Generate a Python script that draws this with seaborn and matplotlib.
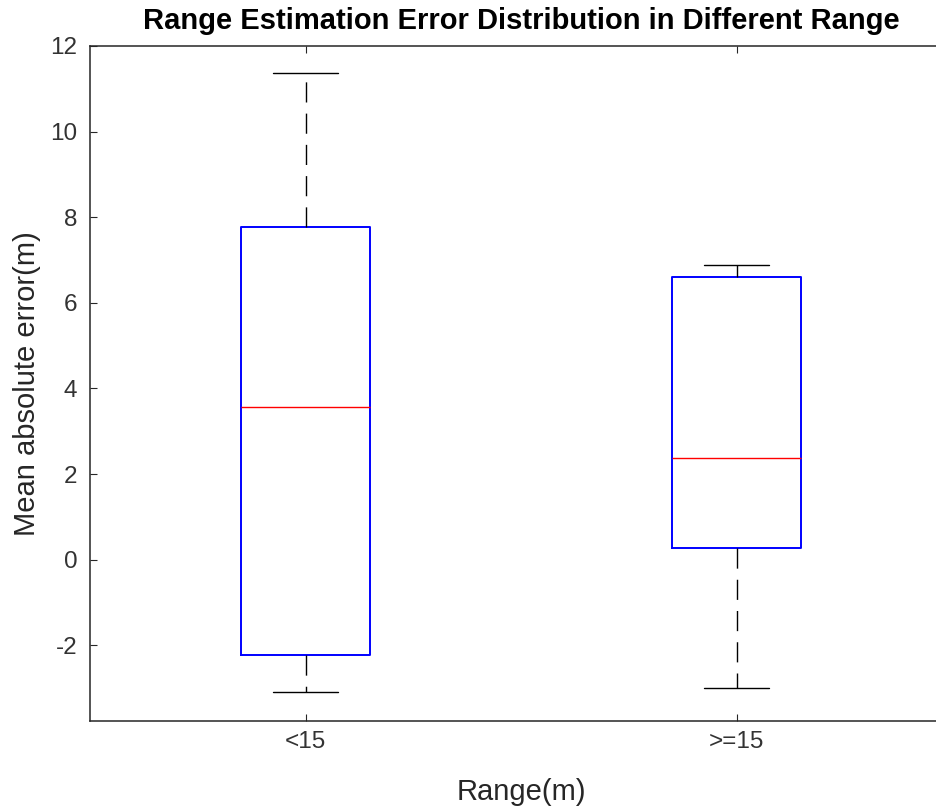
import numpy as np
import pandas as pd
import matplotlib
matplotlib.use("Agg")
import matplotlib.pyplot as plt
import seaborn as sns

# Five-number summaries: [min, Q1, median, Q3, max]
categories = ["<15", ">=15"]
group_lt15 = [-3.09, -2.22, 3.56, 7.76, 11.37]
group_ge15 = [-3.00, 0.28, 2.38, 6.61, 6.89]
yticks = [-2, 0, 2, 4, 6, 8, 10, 12]

df = pd.DataFrame({
    "Range": [categories[0]] * len(group_lt15) + [categories[1]] * len(group_ge15),
    "Error": group_lt15 + group_ge15,
})

sns.set_theme(style="white")
plt.rcParams["font.family"] = ["Liberation Sans", "DejaVu Sans"]

fig = plt.figure(figsize=(9.36, 8.11), dpi=100)
ax = fig.add_axes([90 / 936, 1 - 721 / 811, 862 / 936, (721 - 46) / 811])

sns.boxplot(
    data=df, x="Range", y="Error", order=categories, ax=ax,
    whis=(0, 100), width=0.3, fill=False, color="blue", showfliers=False,
    linewidth=1.3,
    boxprops=dict(color="#0000ff", linewidth=1.4),
    medianprops=dict(color="red", linewidth=1.0),
    whiskerprops=dict(color="black", linewidth=1.0, linestyle=(0, (14.5, 8))),
    capprops=dict(color="black", linewidth=1.0),
)

ax.set_xlim(-0.5, 1.5)
ax.set_ylim(-3.77, 12)
ax.set_yticks(yticks)
ax.set_yticklabels([str(t) for t in yticks])

for s in ["left", "bottom", "top"]:
    ax.spines[s].set_visible(True)
    ax.spines[s].set_color("#262626")
    ax.spines[s].set_linewidth(1.1)
ax.spines["right"].set_visible(False)

ax.tick_params(axis="both", direction="in", length=5, width=0.8, colors="#262626",
               labelsize=17.5, labelcolor="#333333")
ax.tick_params(axis="x", top=True, bottom=True, pad=7)
ax.tick_params(axis="y", left=True, right=False, pad=9)

ax.set_xlabel("Range(m)", fontsize=21, color="#262626", labelpad=18)
ax.set_ylabel("Mean absolute error(m)", fontsize=21, color="#262626", labelpad=7)
ax.set_title("Range Estimation Error Distribution in Different Range",
             fontsize=21, fontweight="bold", color="black", pad=12)

fig.savefig("out.png", dpi=100)
